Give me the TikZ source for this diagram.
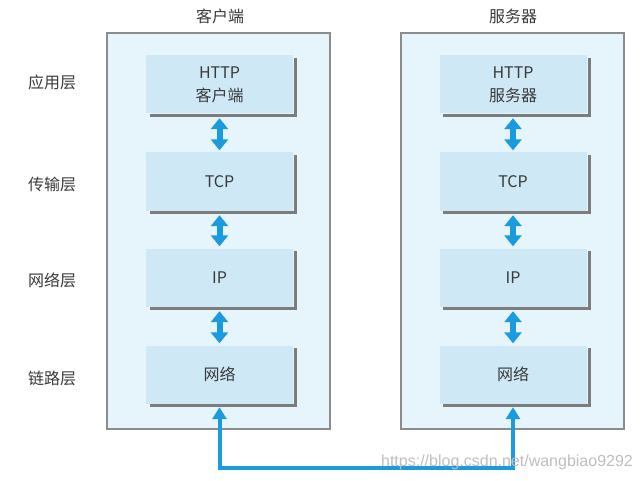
\documentclass[tikz,border=0pt]{standalone}
\usepackage{fontspec}
\setmainfont{Noto Sans CJK SC}
\newfontfamily\wmfont{Liberation Sans}
\usetikzlibrary{arrows.meta,calc}
\definecolor{outerfill}{HTML}{E6F4FB}
\definecolor{innerfill}{HTML}{CFE8F6}
\definecolor{outerline}{HTML}{8C8C8C}
\definecolor{shadowcol}{HTML}{7C7C7C}
\definecolor{arrowblue}{HTML}{1A9BE0}
\definecolor{txt}{HTML}{3A3A3A}
\tikzset{
  outerbox/.style={draw=outerline, line width=1.3pt, fill=outerfill, minimum width=223pt, minimum height=396pt, inner sep=0pt},
  layerbox/.style={fill=innerfill, minimum width=147pt, minimum height=58pt, inner sep=0pt, align=center, text=txt, font=\fontsize{16}{23}\selectfont},
  shadowline/.style={draw=shadowcol, line width=3pt},
  labeltext/.style={text=txt, font=\fontsize{16}{18}\selectfont, inner sep=0pt},
  dblarrow/.style={draw=arrowblue, line width=6pt, {Triangle[width=17pt,length=11pt]}-{Triangle[width=17pt,length=11pt]}},
  linkarrow/.style={draw=arrowblue, line width=4pt, line join=miter, {Triangle[width=14pt,length=12pt]}-{Triangle[width=14pt,length=12pt]}},
  wm/.style={text=black!25, font=\wmfont\fontsize{16}{18}\selectfont, inner sep=0pt}
}
\begin{document}
\begin{tikzpicture}[x=1pt,y=-1pt]
\useasboundingbox (0,0) rectangle (642,481);
\fill[white] (0,0) rectangle (642,481);
% outer boxes
\node[outerbox] (LO) at (218.5,231) {};
\node[outerbox] (RO) at (512.5,231) {};
% titles
\node[labeltext] (LT) at (220,16) {客户端};
\node[labeltext] (RT) at (513,16) {服务器};
% layer labels
\node[labeltext] (A1) at (52,82) {应用层};
\node[labeltext] (A2) at (52,184) {传输层};
\node[labeltext] (A3) at (52,280) {网络层};
\node[labeltext] (A4) at (52,378) {链路层};
% inner boxes
\node[layerbox] (L1) at (219.5,84.5) {HTTP\\客户端};
\node[layerbox] (L2) at (219.5,181.5) {TCP};
\node[layerbox] (L3) at (219.5,277.5) {IP};
\node[layerbox] (L4) at (219.5,374.5) {网络};
\node[layerbox] (R1) at (513,84.5) {HTTP\\服务器};
\node[layerbox] (R2) at (513,181.5) {TCP};
\node[layerbox] (R3) at (513,277.5) {IP};
\node[layerbox] (R4) at (513,374.5) {网络};
% shadows
\foreach \b in {L1,L2,L3,L4,R1,R2,R3,R4}{
  \draw[shadowline] ($(\b.north east)+(2.5,3)$) -- ($(\b.south east)+(2.5,1.5)$) -- ($(\b.south west)+(4,1.5)$);
}
% arrows between layers
\draw[dblarrow] ($(L1.south)+(0,4.5)$) -- ($(L2.north)+(0,-2)$);
\draw[dblarrow] ($(L2.south)+(0,4.5)$) -- ($(L3.north)+(0,-2)$);
\draw[dblarrow] ($(L3.south)+(0,4.5)$) -- ($(L4.north)+(0,-2)$);
\draw[dblarrow] ($(R1.south)+(0,4.5)$) -- ($(R2.north)+(0,-2)$);
\draw[dblarrow] ($(R2.south)+(0,4.5)$) -- ($(R3.north)+(0,-2)$);
\draw[dblarrow] ($(R3.south)+(0,4.5)$) -- ($(R4.north)+(0,-2)$);
% physical link
\coordinate (BL) at (219.5,468);
\coordinate (BR) at (513,468);
\draw[linkarrow] ($(L4.south)+(0,3.5)$) -- (BL) -- (BR) -- ($(R4.south)+(0,3.5)$);
% watermark
\node[wm] (WM) at (507,462) {https://blog.csdn.net/wangbiao9292};
\end{tikzpicture}
\end{document}
